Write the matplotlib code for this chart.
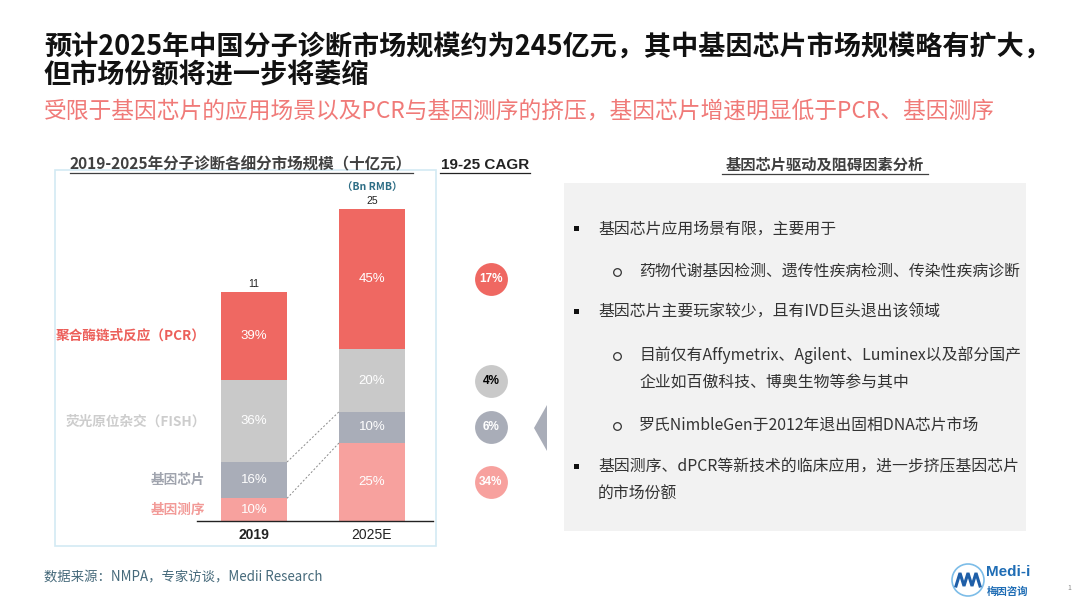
import matplotlib
matplotlib.use("Agg")
import matplotlib.pyplot as plt
from matplotlib.patches import Rectangle, Polygon, Circle

plt.rcParams['font.family'] = ['Noto Sans CJK SC', 'DejaVu Sans']

# data
years = ["2019", "2025E"]
totals = [11, 25]
segments = ["基因测序", "基因芯片", "荧光原位杂交（FISH）", "聚合酶链式反应（PCR）"]
share_2019 = [10, 16, 36, 39]
share_2025 = [25, 10, 20, 45]
cagr = ["34%", "6%", "4%", "17%"]

title_lines = ["预计2025年中国分子诊断市场规模约为245亿元，其中基因芯片市场规模略有扩大，",
               "但市场份额将进一步将萎缩"]
subtitle = "受限于基因芯片的应用场景以及PCR与基因测序的挤压，基因芯片增速明显低于PCR、基因测序"
bullets = [
    (0, ["基因芯片应用场景有限，主要用于"]),
    (1, ["药物代谢基因检测、遗传性疾病检测、传染性疾病诊断"]),
    (0, ["基因芯片主要玩家较少，且有IVD巨头退出该领域"]),
    (1, ["目前仅有Affymetrix、Agilent、Luminex以及部分国产", "企业如百傲科技、博奥生物等参与其中"]),
    (1, ["罗氏NimbleGen于2012年退出固相DNA芯片市场"]),
    (0, ["基因测序、dPCR等新技术的临床应用，进一步挤压基因芯片", "的市场份额"]),
]
source = "数据来源：NMPA，专家访谈，Medii Research"

# styles
seg_colors = ["#F7A19E", "#A9ADB8", "#C9C9C9", "#EF6862"]
label_colors = ["#F29A97", "#A0A4AE", "#CDCDCD", "#EC5F5A"]
cagr_text = ["white", "white", "black", "white"]
bar_scale = [0.727, 1.0]   # relative drawn height of each bar (chart is not to scale)
bar_w = 0.56
bullet_y = [229, 271, 312, 355, 425, 467]
line_h = 27

fig = plt.figure(figsize=(10.8, 6.08), dpi=100)
bg = fig.add_axes([0, 0, 1, 1])
bg.set_xlim(0, 1080)
bg.set_ylim(608, 0)
bg.axis('off')

# headline
bg.text(44, 47, title_lines[0], fontsize=19.5, fontweight='bold', color='#111111', va='center')
bg.text(44, 75, title_lines[1], fontsize=19.5, fontweight='bold', color='#111111', va='center')
bg.text(44, 111, subtitle, fontsize=16.4, style='italic', color='#F07A78', va='center')

# left panel frame + titles
bg.add_patch(Rectangle((55, 170), 381, 376, fill=False, ec='#D3EAF3', lw=1.2))
bg.text(241, 164, "2019-2025年分子诊断各细分市场规模（十亿元）", fontsize=11.2, fontweight='bold',
        color='#404040', ha='center', va='center')
bg.plot([70, 413], [173, 173], color='#404040', lw=0.9)
bg.text(485, 165, "19-25 CAGR", fontsize=11, fontweight='bold', family=['Liberation Sans', 'DejaVu Sans'],
        color='#222222', ha='center', va='center')
bg.plot([440, 530], [173, 173], color='#222222', lw=0.9)

# right panel
bg.text(825, 165, "基因芯片驱动及阻碍因素分析", fontsize=11, fontweight='bold',
        color='#404040', ha='center', va='center')
bg.plot([722, 928], [174, 174], color='#404040', lw=0.9)
bg.add_patch(Rectangle((564, 183), 462, 348, fc='#F2F2F2', ec='none'))
bg.add_patch(Polygon([(534, 428), (547, 405), (547, 451)], closed=True, fc='#A9ADB8', ec='none'))

for (lvl, lines), y in zip(bullets, bullet_y):
    if lvl == 0:
        bg.add_patch(Rectangle((574, y - 3), 5, 5, fc='#111111', ec='none'))
        tx = 598
    else:
        bg.plot([617], [y + 1], marker='o', ms=5.5, mfc='none', mec='#333333', mew=0.9)
        tx = 639
    for j, ln in enumerate(lines):
        bg.text(tx, y + j * line_h, ln, fontsize=11.4, color='#333333', va='center')

# footer
bg.text(44, 577, source, fontsize=9.6, color='#45697A', va='center')
bg.add_patch(Circle((968, 580), 16, fill=False, ec='#7DBDE8', lw=1.2))
bg.plot([956, 960, 964, 968, 972, 976, 980], [586, 573, 586, 573, 586, 573, 586],
        color='#1F5FA8', lw=2.2, solid_joinstyle='miter')
bg.text(986, 572, "Medi-i", fontsize=11, fontweight='bold', color='#1F6DB5',
        family=['Liberation Sans', 'DejaVu Sans'], va='center')
bg.text(987, 592, "梅因咨询", fontsize=7.5, fontweight='bold', color='#1F6DB5', va='center')
bg.text(1067, 588, "1", fontsize=5, color='#888888', va='center')

# stacked bars
ax = fig.add_axes([197 / 1080, 87 / 608, 236 / 1080, 321 / 608])
ax.set_facecolor('none')
ax.set_xlim(-0.483, 1.517)
ax.set_ylim(0, 321 / 3.12)
for s in ['top', 'right', 'left']:
    ax.spines[s].set_visible(False)
ax.spines['bottom'].set_color('#222222')
ax.spines['bottom'].set_linewidth(1.0)
ax.set_yticks([])
ax.set_xticks([0, 1])
ax.set_xticklabels(years)
ax.tick_params(axis='x', length=0, pad=5)
for lab, w in zip(ax.get_xticklabels(), ['bold', 'normal']):
    lab.set_fontweight(w)
    lab.set_fontsize(10)
    lab.set_color('#222222')
    lab.set_family(['Liberation Sans', 'DejaVu Sans'])

shares = [share_2019, share_2025]
tops = []
for xi, (sh, sc) in enumerate(zip(shares, bar_scale)):
    bottom = 0
    cum = []
    for k, v in enumerate(sh):
        h = v * sc
        ax.bar(xi, h, bottom=bottom, width=bar_w, color=seg_colors[k], edgecolor='none')
        ax.text(xi, bottom + h / 2, f"{v}%", ha='center', va='center', color='white',
                fontsize=9.5, family=['Liberation Sans', 'DejaVu Sans'])
        bottom += h
        cum.append(bottom)
    tops.append(cum)
    ax.text(xi, bottom + 1.0, str(totals[xi]), ha='center', va='bottom', fontsize=7.5,
            color='#222222', family=['Liberation Sans', 'DejaVu Sans'])
ax.text(1, tops[1][-1] + 5.2, "（Bn RMB）", ha='center', va='bottom', fontsize=7.5,
        fontweight='bold', color='#2E6E86')

# segment names on the left of 2019 bar
bottom = 0
for k, v in enumerate(share_2019):
    h = v * bar_scale[0]
    ax.text(-0.41, bottom + h / 2, segments[k], ha='right', va='center', fontsize=9.8,
            fontweight='bold', color=label_colors[k], clip_on=False)
    bottom += h

# dashed connectors
for k in [0, 1]:
    ax.plot([bar_w / 2, 1 - bar_w / 2], [tops[0][k], tops[1][k]], ls=(0, (2, 2)),
            color='#8A8A8A', lw=0.7)

# CAGR bubbles next to 2025 segments
bottom = 0
for k, v in enumerate(share_2025):
    h = v * bar_scale[1]
    yc = bottom + h / 2
    ax.scatter([2.008], [yc], s=560, color=seg_colors[k], clip_on=False, zorder=3, linewidths=0)
    ax.text(2.008, yc, cagr[k], ha='center', va='center', fontsize=8.5, fontweight='bold',
            color=cagr_text[k], family=['Liberation Sans', 'DejaVu Sans'], zorder=4, clip_on=False)
    bottom += h

fig.savefig("out.png", dpi=100)
